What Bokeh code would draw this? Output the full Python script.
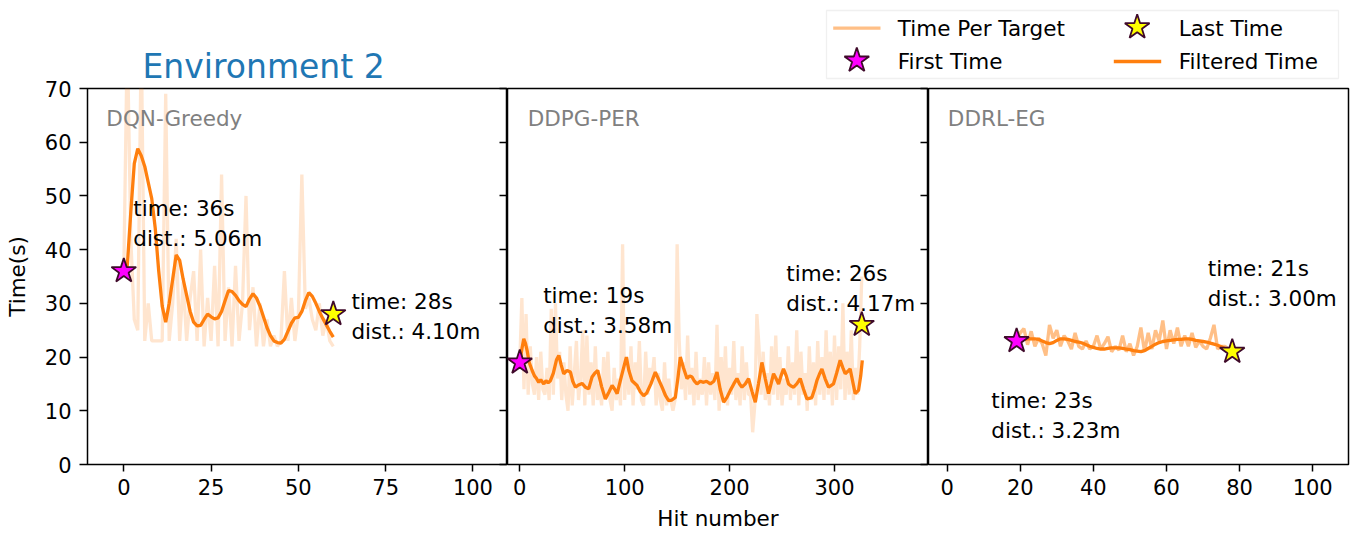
from bokeh.plotting import figure
from bokeh.models import Range1d, LinearAxis, FixedTicker, Label, BoxAnnotation
from bokeh.layouts import column, row
from bokeh.embed import file_html
from bokeh.resources import INLINE
from bokeh.core.properties import value

FONT = "DejaVu Sans"
ORANGE = "#ff7f0e"
STAR_EDGE = "#3f0a2a"

# ---------------- data ----------------
y_ticks = [0, 10, 20, 30, 40, 50, 60, 70]

# Panel 1: DQN-Greedy
dqn_hits = list(range(0, 61))
dqn_time = [36, 80, 42, 27, 25, 80, 23, 30, 23, 23, 23, 23, 69, 23, 30, 42, 23, 34, 23, 31,
            36, 23, 40, 22, 31, 23, 37, 22, 54, 23, 33, 22, 37, 23, 30, 50, 25, 33, 22, 30,
            22, 27, 22, 24, 22, 23, 36, 23, 31, 23, 28, 54, 29, 31, 27, 25, 30, 24, 27, 23, 22]
dqn_filt = [36, 37, 47, 56, 58.8, 57.5, 55.5, 52.5, 49.5, 44, 36, 29.5, 26.5, 30, 34.5, 39, 38,
            34.5, 31.5, 28.5, 26.5, 25.8, 25.9, 27, 28, 27.5, 27.1, 27.3, 28.5, 30.5, 32.4, 32.2,
            31.5, 30.5, 29.8, 29.4, 30.8, 31.8, 31, 29.5, 27.5, 25.5, 24, 23, 22.7, 22.6, 23.3,
            24.8, 26.3, 27.3, 27.4, 28.5, 30.5, 32, 31.3, 30, 28.5, 27.2, 26, 24.8, 23.7]
dqn_first = (0, 36)
dqn_last = (60, 28)
dqn_notes_x = [2.7, 65.2]
dqn_notes_y = [49.9, 32.7]
dqn_notes = ["time: 36s\ndist.: 5.06m", "time: 28s\ndist.: 4.10m"]

# Panel 2: DDPG-PER (raw values every 2nd hit)
ddpg_hits = list(range(0, 327, 2))
ddpg_time = [19, 31, 14, 28, 13, 22, 15, 13, 20, 12, 21, 14, 13, 18, 12, 29, 13, 30, 16, 21,
             12, 19, 13, 10, 22, 11, 17, 23, 12, 16, 25, 11, 24, 13, 19, 11, 22, 12, 15, 11,
             20, 13, 21, 12, 10, 18, 12, 16, 11, 41, 12, 20, 13, 22, 11, 19, 14, 23, 12, 11,
             21, 13, 18, 16, 20, 11, 17, 12, 10, 19, 11, 16, 12, 10, 12, 41, 23, 14, 19, 12,
             24, 13, 18, 11, 21, 12, 16, 13, 20, 11, 19, 13, 17, 12, 26, 10, 20, 12, 22, 11,
             18, 13, 23, 12, 17, 11, 22, 12, 19, 13, 13, 6, 11, 28, 22, 13, 21, 12, 17, 11,
             22, 13, 24, 12, 20, 11, 16, 13, 22, 12, 19, 13, 25, 11, 21, 13, 17, 10, 22, 12,
             19, 11, 23, 13, 20, 12, 25, 13, 21, 11, 24, 12, 22, 14, 30, 12, 21, 13, 25, 12,
             18, 13, 22, 35]
ddpg_filt_x = [0, 2, 3.8, 5.5, 7, 9, 11.8, 14, 16, 18.1, 20, 22.9, 25, 27, 29.2, 32, 35, 37.2,
               39.5, 41.9, 45, 48.3, 50.5, 53, 56, 59.4, 62.5, 65.7, 68.9, 71.5, 74.3, 78, 81.6,
               85, 88, 90.5, 92.8, 97, 101.6, 104, 107, 111.8, 115, 118.1, 121, 125, 129.2, 132,
               135.6, 139, 141.9, 145, 148.3, 151, 153, 156, 159.4, 162, 164.2, 166.5, 168.9,
               172, 175.2, 178, 181.6, 185, 188, 191, 194.3, 197.5, 200.7, 204, 207, 209.5,
               211.8, 215, 218.1, 221.5, 224.5, 227.5, 230.8, 234, 237.1, 239.5, 241.9, 244.3,
               246.7, 249, 251.4, 254, 256.2, 258.6, 261, 264, 267.3, 270.5, 273.7, 276, 278.5,
               281, 283.2, 285.6, 288, 291, 294.3, 296.6, 299, 302, 305.4, 308, 310.2, 312.5,
               314.9, 317.3, 319.7, 322.9, 325, 326.5]
ddpg_filt = [19, 21.5, 23.4, 22.5, 21.2, 19, 17.5, 16.5, 16, 15.3, 15.8, 15, 15.6, 15.2, 15.6,
             17, 19.5, 20.3, 18.5, 16.9, 17.5, 17.2, 15.5, 14.4, 14.8, 15.1, 14.4, 14.1, 16.3,
             17, 17.5, 14.5, 12.2, 13.5, 14.7, 14, 13.2, 16.5, 20, 17.5, 15.6, 14.7, 13.5, 12.8,
             13.3, 15, 17.2, 16, 14.4, 12.8, 11.9, 12, 12.5, 16.5, 20, 18, 16, 16.5, 16.3, 15.5,
             15, 15.5, 15.3, 15.5, 15, 15.5, 17.2, 14, 11.6, 12.5, 13.8, 15, 16, 15, 14.4, 15,
             16, 13.5, 11.6, 15, 19, 16, 13.2, 15, 16.9, 16, 15, 16.5, 17.8, 16.5, 15, 14.6,
             14.4, 15, 16, 14, 12.2, 12.3, 12.5, 14, 15.6, 16.8, 17.8, 16, 14.4, 14.7, 15, 17,
             19.4, 18, 16.9, 17.3, 17.8, 15.5, 13.2, 13.8, 16.5, 19.4]
ddpg_first = (0, 19)
ddpg_last = (326, 26)
ddpg_notes_x = [22.3, 254]
ddpg_notes_y = [33.75, 37.8]
ddpg_notes = ["time: 19s\ndist.: 3.58m", "time: 26s\ndist.: 4.17m"]

# Panel 3: DDRL-EG
ddrl_hits = list(range(19, 79))
ddrl_time = [23, 24.5, 25.3, 22.3, 24.8, 22, 23.5, 22.5, 20.3, 26, 23.5, 25, 22, 24, 23, 21.5,
             24.5, 22, 21.5, 23, 21.5, 22, 24, 21.5, 22.5, 23.8, 21, 22, 21.3, 24, 21, 22.5,
             20.3, 22, 25.5, 21, 24.5, 21.5, 25, 23, 26.8, 21.5, 25, 22.5, 25.5, 22, 24, 22,
             24.5, 21.8, 23, 22, 21.5, 23.5, 26, 21.5, 22, 22, 21.5, 21]
ddrl_filt = [23, 23.1, 23.3, 23.4, 23.4, 23.4, 23.3, 23, 22.7, 22.5, 22.7, 23.1, 23.4, 23.4,
             23.3, 23.1, 22.9, 22.8, 22.6, 22.3, 22, 21.8, 21.6, 21.5, 21.5, 21.6, 21.7, 21.7,
             21.7, 21.6, 21.5, 21.4, 21.2, 21.1, 21, 21.2, 21.6, 22, 22.4, 22.7, 22.9, 23, 23.1,
             23.2, 23.3, 23.3, 23.4, 23.4, 23.3, 23.1, 23, 22.9, 22.8, 22.6, 22.4, 22.2, 21.9,
             21.6, 21.2, 20.9]
ddrl_first = (19, 23)
ddrl_last = (78, 21)
ddrl_notes_x = [71.3, 12.1]
ddrl_notes_y = [38.86, 14.2]
ddrl_notes = ["time: 21s\ndist.: 3.00m", "time: 23s\ndist.: 3.23m"]

legend_labels = ["Time Per Target", "First Time", "Last Time", "Filtered Time"]

# ---------------- layout constants (page pixels) ----------------
STRIP_H = 80
ROW_H = 454
TOP_B = 8
BOT_B = 70


def make_panel(width, height, top_b, xr, xticks, left_b, right_b, left_axis, right_ticks,
               name, name_x, hits, raw, raw_alpha, fx, fy, first, last, nx, ny, notes,
               xlabel=None):
    p = figure(width=width, height=height, x_range=Range1d(*xr), y_range=Range1d(0, 70),
               output_backend="svg", toolbar_location=None,
               y_axis_location="left" if left_axis else None,
               min_border=0, min_border_left=left_b, min_border_right=right_b,
               min_border_top=top_b, min_border_bottom=BOT_B)
    p.outline_line_color = "black"
    p.outline_line_width = 1.5
    p.xgrid.visible = False
    p.ygrid.visible = False
    p.background_fill_color = "white"
    p.border_fill_color = "white"

    xa = p.xaxis[0]
    xa.ticker = FixedTicker(ticks=xticks)
    xa.major_label_text_font = FONT
    xa.major_label_text_font_size = "21px"
    xa.major_label_text_color = "black"
    xa.major_tick_in = 0
    xa.major_tick_out = 7
    xa.major_tick_line_width = 1.5
    xa.minor_tick_line_color = None
    xa.axis_line_color = None
    xa.major_label_standoff = 7
    if xlabel:
        xa.axis_label = xlabel
        xa.axis_label_text_font = FONT
        xa.axis_label_text_font_size = "21.5px"
        xa.axis_label_text_font_style = "normal"
        xa.axis_label_text_color = "black"
        xa.axis_label_standoff = 8

    if left_axis:
        ya = p.yaxis[0]
        ya.ticker = FixedTicker(ticks=y_ticks)
        ya.major_label_text_font = FONT
        ya.major_label_text_font_size = "21px"
        ya.major_label_text_color = "black"
        ya.major_tick_in = 0
        ya.major_tick_out = 8
        ya.major_tick_line_width = 1.5
        ya.minor_tick_line_color = None
        ya.axis_line_color = None
        ya.major_label_standoff = 8
        ya.axis_label = "Time(s)"
        ya.axis_label_text_font = FONT
        ya.axis_label_text_font_size = "21.5px"
        ya.axis_label_text_font_style = "normal"
        ya.axis_label_text_color = "black"
        ya.axis_label_standoff = 12

    if right_ticks:
        ra = LinearAxis(ticker=FixedTicker(ticks=y_ticks), major_tick_in=8, major_tick_out=0,
                        major_tick_line_width=1.5,
                        major_label_overrides={t: "" for t in y_ticks},
                        major_label_text_color=None,
                        major_label_standoff=0, axis_line_color=None,
                        minor_tick_line_color=None)
        p.add_layout(ra, "right")

    p.line(hits, raw, line_color=ORANGE, line_alpha=raw_alpha, line_width=3.3)
    p.line(fx, fy, line_color=ORANGE, line_width=3.3)
    p.scatter([first[0]], [first[1]], marker="star", size=26, fill_color="#ff00ff",
              line_color=STAR_EDGE, line_width=1.8)
    p.scatter([last[0]], [last[1]], marker="star", size=26, fill_color="#ffff00",
              line_color=STAR_EDGE, line_width=1.8)
    p.text(x=nx, y=ny, text=notes, text_font=value(FONT), text_font_size="21.5px",
           text_color="black", text_baseline="top", text_align="left")
    p.add_layout(Label(x=name_x, y=66.75, text=name, text_font=FONT, text_font_size="21.5px",
                       text_color="#808080", text_baseline="top"))
    return p


# Panel 1 spans the full page height; its title sits above its frame
p1 = make_panel(507, STRIP_H + ROW_H, STRIP_H + TOP_B, (-10.4, 109.9), [0, 25, 50, 75, 100],
                87, 0, True, True, "DQN-Greedy", -5.0,
                dqn_hits, dqn_time, 0.2, dqn_hits, dqn_filt, dqn_first, dqn_last,
                dqn_notes_x, dqn_notes_y, dqn_notes)
p1.title.text = "Environment 2"
p1.title.text_font = FONT
p1.title.text_font_size = "33px"
p1.title.text_font_style = "normal"
p1.title.text_color = "#1f77b4"
p1.title.align = "left"
p1.title.offset = 55
p1.title.standoff = 5

p2 = make_panel(421, ROW_H, TOP_B, (-11.7, 389.6), [0, 100, 200, 300], 0, 0, False, True,
                "DDPG-PER", 7.6,
                ddpg_hits, ddpg_time, 0.2, ddpg_filt_x, ddpg_filt, ddpg_first, ddpg_last,
                ddpg_notes_x, ddpg_notes_y, ddpg_notes, xlabel="Hit number")
p3 = make_panel(428, ROW_H, TOP_B, (-5.1, 109.8), [0, 20, 40, 60, 80, 100], 0, 8, False, False,
                "DDRL-EG", 0.2,
                ddrl_hits, ddrl_time, 0.5, ddrl_hits, ddrl_filt, ddrl_first, ddrl_last,
                ddrl_notes_x, ddrl_notes_y, ddrl_notes)

# ---------------- legend strip above panels 2 and 3 (page-pixel coordinates) ----------------
STRIP_X0 = 507
STRIP_W = 421 + 428
top = figure(width=STRIP_W, height=STRIP_H, x_range=Range1d(STRIP_X0, STRIP_X0 + STRIP_W),
             y_range=Range1d(STRIP_H, 0),
             output_backend="svg", toolbar_location=None, min_border=0,
             x_axis_location=None, y_axis_location=None)
top.outline_line_color = None
top.xgrid.visible = False
top.ygrid.visible = False
top.add_layout(BoxAnnotation(left=826, right=1338, top=10, bottom=78, fill_color="white",
                             fill_alpha=1.0, line_color="#cccccc", line_width=1.3,
                             level="underlay"))
top.line([832.7, 880], [27.7, 27.7], line_color=ORANGE, line_alpha=0.5, line_width=3.3)
top.line([1113.3, 1160.7], [61, 61], line_color=ORANGE, line_width=3.3)
top.scatter([856.3], [60], marker="star", size=26, fill_color="#ff00ff",
            line_color=STAR_EDGE, line_width=1.8)
top.scatter([1136.7], [26.7], marker="star", size=26, fill_color="#ffff00",
            line_color=STAR_EDGE, line_width=1.8)
top.text(x=[897.3, 897.3, 1178.3, 1178.3], y=[15.5, 48.8, 15.5, 48.8], text=legend_labels,
         text_font=value(FONT), text_font_size="21.5px", text_color="black",
         text_baseline="top")

layout = row(p1, column(top, row(p2, p3, spacing=0), spacing=0), spacing=0)
open("out.html", "w").write(file_html(layout, INLINE))
